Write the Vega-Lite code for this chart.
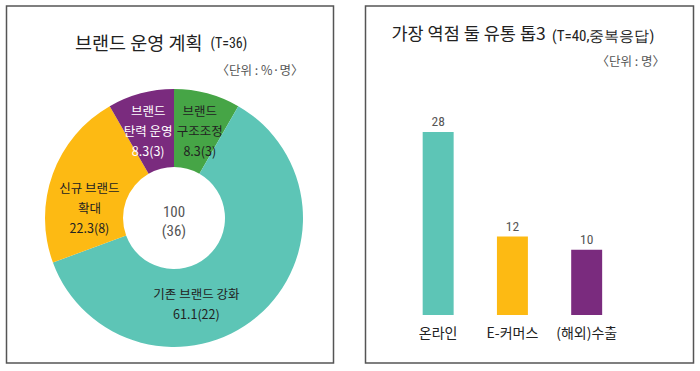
{
  "$schema": "https://vega.github.io/schema/vega-lite/v6.json",
  "background": "white",
  "padding": {"left": 5.5, "top": 5, "right": 0, "bottom": 0},
  "spacing": 30,
  "resolve": {"scale": {"color": "independent"}},
  "config": {
    "font": "Noto Sans CJK KR",
    "view": {"stroke": "#555555", "strokeWidth": 1.5},
    "axis": {"labels": false, "ticks": false, "domain": false, "grid": false, "minExtent": 0}
  },
  "hconcat": [
    {
      "width": 327,
      "height": 357,
      "title": {"text": "브랜드 운영 계획", "anchor": "start", "frame": "group", "dx": 68.5, "offset": -47, "fontSize": 18.5, "fontWeight": "normal", "color": "#222222"},
      "data": {"values": [
        {"cat": "브랜드 구조조정", "value": 8.3, "n": 3, "order": 1, "label": "브랜드|구조조정|8.3(3)"},
        {"cat": "기존 브랜드 강화", "value": 61.1, "n": 22, "order": 2, "label": "기존 브랜드 강화|61.1(22)"},
        {"cat": "신규 브랜드 확대", "value": 22.3, "n": 8, "order": 3, "label": "신규 브랜드|확대|22.3(8)"},
        {"cat": "브랜드 탄력 운영", "value": 8.3, "n": 3, "order": 4, "label": "브랜드|탄력 운영|8.3(3)"}
      ]},
      "layer": [
        {
          "mark": {"type": "arc", "innerRadius": 51, "outerRadius": 129},
          "encoding": {
            "x": {"datum": 0, "type": "quantitative", "scale": {"domain": [-167.5, 159.5], "nice": false, "zero": false},
                  "axis": {"orient": "top", "title": "〈단위 : %·명〉", "titleX": 296.5, "titleY": 64, "titleAlign": "right", "titleBaseline": "middle", "titleAngle": 0, "titleFontSize": 12.5, "titleFontWeight": "normal", "titleColor": "#555555"}},
            "y": {"datum": 0, "type": "quantitative", "scale": {"domain": [-145, 212], "nice": false, "zero": false},
                  "axis": {"orient": "left", "title": "(T=36)", "titleX": 203.5, "titleY": 41, "titleAlign": "left", "titleBaseline": "alphabetic", "titleAngle": 0, "titleFontSize": 14, "titleFont": "Roboto Condensed, Liberation Sans Narrow, Roboto", "titleFontWeight": "normal", "titleColor": "#222222"}},
            "theta": {"field": "value", "type": "quantitative", "stack": true},
            "order": {"field": "order", "type": "quantitative"},
            "color": {"field": "cat", "type": "nominal",
                      "scale": {"domain": ["브랜드 구조조정", "기존 브랜드 강화", "신규 브랜드 확대", "브랜드 탄력 운영"], "range": ["#46A546", "#5DC5B6", "#FDBA13", "#7A2B7E"]},
                      "legend": null}
          }
        },
        {
          "mark": {"type": "text", "lineBreak": "|", "lineHeight": 20, "fontSize": 12.5,
                   "radius": {"expr": "datum.cat === '신규 브랜드 확대' ? 85 : 90"},
                   "dy": {"expr": "-10 * (length(split(datum.label, '|')) - 1)"},
                   "thetaOffset": {"expr": "datum.cat === '신규 브랜드 확대' ? -0.244 : datum.cat === '기존 브랜드 강화' ? 0.449 : datum.cat === '브랜드 구조조정' ? 0.03 : -0.03"}},
          "encoding": {
            "x": {"datum": 0, "type": "quantitative"},
            "y": {"datum": 0, "type": "quantitative"},
            "theta": {"field": "value", "type": "quantitative", "stack": true},
            "order": {"field": "order", "type": "quantitative"},
            "detail": {"field": "cat", "type": "nominal"},
            "text": {"field": "label", "type": "nominal"},
            "color": {"condition": {"test": "datum.cat === '브랜드 탄력 운영'", "value": "#ffffff"}, "value": "#222222"}
          }
        },
        {
          "data": {"values": [{"label": "100|(36)"}]},
          "mark": {"type": "text", "lineBreak": "|", "lineHeight": 19, "fontSize": 15, "dy": -6, "color": "#555555", "font": "Roboto Condensed, Liberation Sans Narrow, Roboto"},
          "encoding": {
            "x": {"datum": 0, "type": "quantitative"},
            "y": {"datum": 0, "type": "quantitative"},
            "text": {"field": "label", "type": "nominal"}
          }
        }
      ]
    },
    {
      "width": 328,
      "height": 357,
      "title": {"text": "가장 역점 둘 유통 톱3", "anchor": "start", "frame": "group", "dx": 26, "offset": -37, "fontSize": 17.5, "fontWeight": "normal", "color": "#222222"},
      "data": {"values": [
        {"channel": "온라인", "count": 28},
        {"channel": "E-커머스", "count": 12},
        {"channel": "(해외)수출", "count": 10}
      ]},
      "encoding": {
        "x": {"field": "channel", "type": "nominal", "sort": null,
              "scale": {"paddingInner": 0.583, "paddingOuter": 1.017, "align": 0.385},
              "axis": {"orient": "bottom", "offset": -48, "labels": true, "labelAngle": 0, "labelPadding": 11, "labelFontSize": 14, "labelColor": "#222222",
                       "title": "〈단위 : 명〉", "titleX": 299, "titleY": -254, "titleAlign": "right", "titleBaseline": "middle", "titleAngle": 0, "titleFontSize": 12.5, "titleFontWeight": "normal", "titleColor": "#555555"}},
        "y": {"field": "count", "type": "quantitative", "scale": {"domain": [-7.34, 47.28], "nice": false, "zero": false},
              "axis": {"orient": "left", "title": "(T=40,중복응답)", "titleX": 186, "titleY": 34, "titleAlign": "left", "titleBaseline": "alphabetic", "titleAngle": 0, "titleFontSize": 15, "titleFont": "Roboto Condensed, Liberation Sans Narrow, Roboto", "titleFontWeight": "normal", "titleColor": "#222222"}}
      },
      "layer": [
        {
          "mark": {"type": "bar"},
          "encoding": {
            "color": {"field": "channel", "type": "nominal",
                      "scale": {"domain": ["온라인", "E-커머스", "(해외)수출"], "range": ["#5DC5B6", "#FDBA13", "#7A2B7E"]},
                      "legend": null}
          }
        },
        {
          "mark": {"type": "text", "baseline": "bottom", "dy": -3, "fontSize": 13.5, "color": "#555555", "font": "Roboto Condensed, Liberation Sans Narrow, Roboto"},
          "encoding": {"text": {"field": "count", "type": "quantitative"}}
        }
      ]
    }
  ]
}
